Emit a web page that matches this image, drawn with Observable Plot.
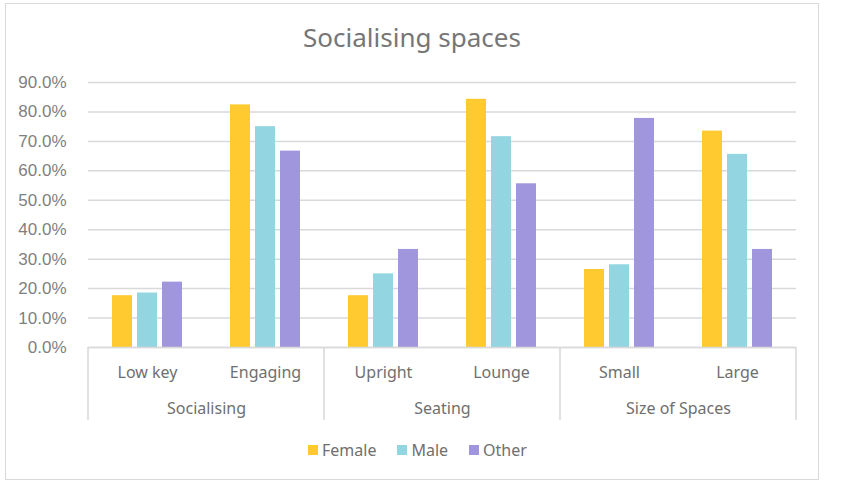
<!DOCTYPE html>
<html>
<head>
<meta charset="utf-8">
<script src="https://cdn.jsdelivr.net/npm/d3@7"></script>
<script src="https://cdn.jsdelivr.net/npm/@observablehq/plot@0.6"></script>
<style>
  html, body { margin: 0; padding: 0; background: #fff; }
  body { width: 855px; height: 482px; position: relative; overflow: hidden; font-family: "Noto Sans", sans-serif; }
  #frame { position: absolute; left: 5px; top: 3px; width: 814px; height: 477px; border: 1.5px solid #d9d9d9; box-sizing: border-box; }
  #title { position: absolute; left: 5px; width: 814px; top: 21px; line-height: 32px; text-align: center; font-size: 26px; color: #767676; }
  #chart { position: absolute; left: 0; top: 60px; }
  #legend { position: absolute; left: 308px; top: 441px; height: 18px; display: flex; align-items: center; font-size: 16px; color: #6f6f6f; }
  #legend .item { display: flex; align-items: center; margin-right: 21px; }
  #legend .sw { width: 10px; height: 10px; margin-right: 4px; }
  .yax text { font-size: 17px !important; font-family: "Liberation Sans", Arial, sans-serif !important; fill: #7f7f7f; }
  .fxax text, .grp text { font-size: 16px !important; }
</style>
</head>
<body>
<div id="frame"></div>
<div id="title">Socialising spaces</div>
<div id="chart"></div>
<div id="legend"></div>
<script>
const groups = ["Socialising", "Seating", "Size of Spaces"];
const subcategories = ["Low key", "Engaging", "Upright", "Lounge", "Small", "Large"];
const subGroup = ["Socialising", "Socialising", "Seating", "Seating", "Size of Spaces", "Size of Spaces"];
const genders = ["Female", "Male", "Other"];
const female = [0.176, 0.824, 0.176, 0.843, 0.265, 0.735];
const male = [0.185, 0.750, 0.250, 0.716, 0.281, 0.656];
const other = [0.222, 0.667, 0.333, 0.556, 0.778, 0.333];
const colors = ["#FFCA30", "#93D5E0", "#A096DD"];
const yTicks = [0, 0.1, 0.2, 0.3, 0.4, 0.5, 0.6, 0.7, 0.8, 0.9];

const seriesValues = [female, male, other];
const data = [];
subcategories.forEach((sub, i) => {
  genders.forEach((g, j) => {
    data.push({sub, group: subGroup[i], gender: g, value: seriesValues[j][i]});
  });
});
const groupRows = groups.map(g => ({group: g, first: subcategories[subGroup.indexOf(g)]}));

const plot = Plot.plot({
  width: 855,
  height: 370,
  marginTop: 22,
  marginBottom: 83,
  marginLeft: 86,
  marginRight: 58,
  style: {fontFamily: "Noto Sans, sans-serif", fontSize: "16px", color: "#6f6f6f", background: "transparent", overflow: "visible"},
  fx: {domain: subcategories, padding: 0, label: null},
  x: {domain: genders, paddingInner: 0.19, paddingOuter: 0.874, axis: null},
  y: {domain: [0, 0.9], label: null},
  color: {domain: genders, range: colors},
  marks: [
    Plot.gridY(yTicks, {stroke: "#d9d9d9", strokeOpacity: 1, strokeWidth: 1.5}),
    Plot.barY(data, {fx: "sub", x: "gender", y: "value", fill: "gender"}),
    Plot.ruleY([0], {stroke: "#d9d9d9", strokeWidth: 1.5}),
    Plot.axisY(yTicks, {className: "yax", tickFormat: d3.format(".1%"), tickSize: 0, tickPadding: 22, fontSize: 17, fill: "#7f7f7f", label: null}),
    Plot.axisFx({className: "fxax", anchor: "bottom", tickSize: 0, tickPadding: 19, fontSize: 16, fill: "#6f6f6f", label: null}),
    Plot.text(groupRows, {className: "grp", fx: "first", text: "group", frameAnchor: "bottom-right", textAnchor: "middle", lineAnchor: "middle", dy: 61, fontSize: 16, fill: "#6f6f6f"})
  ]
});

// group separators in the category axis, positioned with the plot's own scales
const fx = plot.scale("fx");
const ys = plot.scale("y");
const y0 = ys.apply(0);
const bounds = groups.map(g => fx.apply(subcategories[subGroup.indexOf(g)]));
bounds.push(fx.apply(subcategories[subcategories.length - 1]) + fx.bandwidth);
d3.select(plot).append("g")
  .selectAll("line").data(bounds).join("line")
  .attr("x1", d => d).attr("x2", d => d)
  .attr("y1", y0).attr("y2", y0 + 73)
  .attr("stroke", "#d9d9d9").attr("stroke-width", 1.5);

document.getElementById("chart").appendChild(plot);

const legend = d3.select("#legend");
genders.forEach((g, i) => {
  const item = legend.append("div").attr("class", "item");
  item.append("div").attr("class", "sw").style("background", colors[i]);
  item.append("span").text(g);
});
</script>
</body>
</html>
